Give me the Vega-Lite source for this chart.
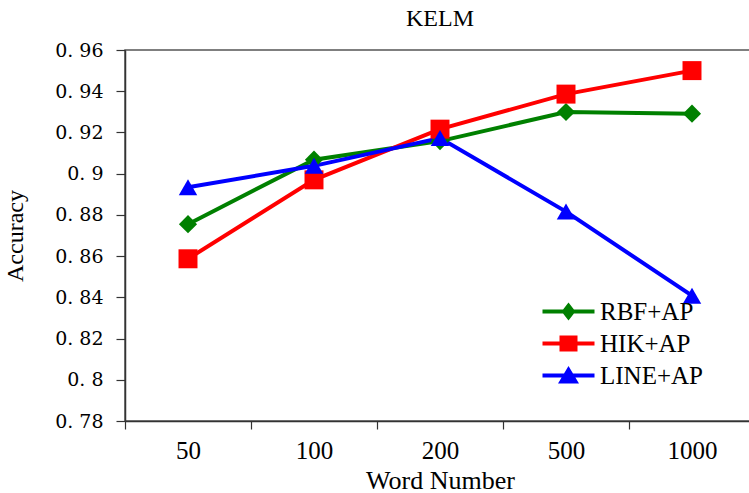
{
  "$schema": "https://vega.github.io/schema/vega-lite/v6.json",
  "width": 630,
  "height": 371,
  "autosize": {"type": "none"},
  "padding": {"left": 125, "top": 50, "right": 0, "bottom": 72},
  "background": "white",
  "title": {"text": "KELM", "font": "Liberation Serif", "fontSize": 24, "fontWeight": "normal", "color": "black", "anchor": "middle", "baseline": "alphabetic", "offset": 10, "dy": 19},
  "config": {
    "view": {"stroke": "#555555", "strokeWidth": 1.5},
    "axis": {"grid": false, "domainColor": "#333333", "tickColor": "#333333", "domainWidth": 1.5, "tickWidth": 1.2, "labelColor": "black", "titleColor": "black", "titleFontWeight": "normal"}
  },
  "data": {"values": [
    {"words": "50", "method": "RBF+AP", "acc": 0.8755},
    {"words": "100", "method": "RBF+AP", "acc": 0.9068},
    {"words": "200", "method": "RBF+AP", "acc": 0.9158},
    {"words": "500", "method": "RBF+AP", "acc": 0.9299},
    {"words": "1000", "method": "RBF+AP", "acc": 0.9291},
    {"words": "50", "method": "HIK+AP", "acc": 0.8587},
    {"words": "100", "method": "HIK+AP", "acc": 0.8970},
    {"words": "200", "method": "HIK+AP", "acc": 0.9216},
    {"words": "500", "method": "HIK+AP", "acc": 0.9386},
    {"words": "1000", "method": "HIK+AP", "acc": 0.9500},
    {"words": "50", "method": "LINE+AP", "acc": 0.8934},
    {"words": "100", "method": "LINE+AP", "acc": 0.9038},
    {"words": "200", "method": "LINE+AP", "acc": 0.9173},
    {"words": "500", "method": "LINE+AP", "acc": 0.8816},
    {"words": "1000", "method": "LINE+AP", "acc": 0.8408}
  ]},
  "encoding": {
    "x": {"field": "words", "type": "ordinal", "sort": ["50", "100", "200", "500", "1000"],
      "scale": {"type": "band", "paddingInner": 0, "paddingOuter": 0},
      "axis": {"title": "Word Number", "labelAngle": 0, "tickBand": "extent", "tickSize": 8, "labelPadding": 9, "titlePadding": 4,
        "labelFont": "Liberation Serif", "labelFontSize": 25, "titleFont": "Liberation Serif", "titleFontSize": 26}},
    "y": {"field": "acc", "type": "quantitative",
      "scale": {"domain": [0.78, 0.96], "zero": false, "nice": false},
      "axis": {"title": "Accuracy", "values": [0.78, 0.8, 0.82, 0.84, 0.86, 0.88, 0.9, 0.92, 0.94, 0.96],
        "labelExpr": "replace(format(datum.value, '.2~f'), '.', '. ')",
        "tickSize": 9, "labelPadding": 13, "titlePadding": 27,
        "labelFont": "DejaVu Serif", "labelFontSize": 19, "titleFont": "Liberation Serif", "titleFontSize": 24}},
    "color": {"field": "method", "type": "nominal",
      "scale": {"domain": ["RBF+AP", "HIK+AP", "LINE+AP"], "range": ["#008000", "#ff0000", "#0000ff"]},
      "legend": {"title": null, "orient": "none", "legendX": 431, "legendY": 249, "padding": 0,
        "symbolSize": 400, "labelOffset": 19, "rowPadding": 6,
        "labelFont": "Liberation Serif", "labelFontSize": 25, "labelColor": "black", "labelLimit": 300,
        "encode": {"symbols": {"update": {
          "shape": {"signal": "datum.value === 'RBF+AP' ? 'M-2.6,-0.2L2.6,-0.2L2.6,0.2L-2.6,0.2Z M0,-0.9L0.7,0L0,0.9L-0.7,0Z' : datum.value === 'HIK+AP' ? 'M-2.6,-0.2L2.6,-0.2L2.6,0.2L-2.6,0.2Z M-0.9,-0.8L0.9,-0.8L0.9,0.8L-0.9,0.8Z' : 'M-2.6,-0.2L2.6,-0.2L2.6,0.2L-2.6,0.2Z M0,-0.95L1.05,0.8L-1.05,0.8Z'"},
          "fill": {"signal": "scale('color', datum.value)"},
          "stroke": {"value": "transparent"},
          "strokeWidth": {"value": 0},
          "opacity": {"value": 1},
          "size": {"value": 400}
        }}}
      }}
  },
  "layer": [
    {
      "mark": {"type": "line", "strokeWidth": 4}
    },
    {
      "transform": [{"filter": "datum.method === 'RBF+AP'"}],
      "mark": {"type": "point", "filled": true, "opacity": 1, "size": 330, "shape": "diamond"}
    },
    {
      "transform": [{"filter": "datum.method === 'HIK+AP'"}],
      "mark": {"type": "point", "filled": true, "opacity": 1, "size": 360, "shape": "square"}
    },
    {
      "transform": [{"filter": "datum.method === 'LINE+AP'"}],
      "mark": {"type": "point", "filled": true, "opacity": 1, "size": 340, "shape": "triangle-up"}
    }
  ]
}
